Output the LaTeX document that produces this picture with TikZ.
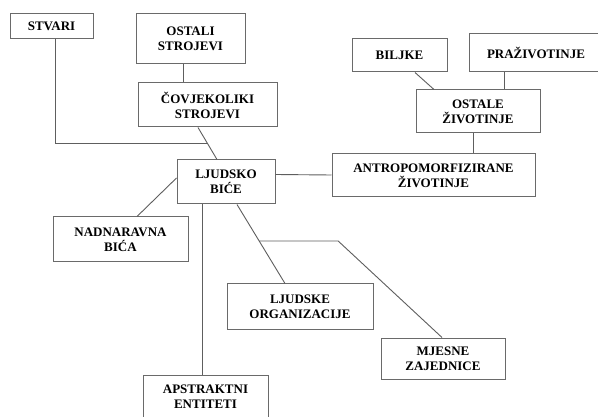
\documentclass[tikz,border=0pt]{standalone}
\usepackage{fontspec}
\setmainfont{Liberation Serif}[BoldFont={Liberation Serif Bold}]
\usetikzlibrary{calc}
\definecolor{linegray}{HTML}{5E5E5E}
\definecolor{boxgray}{HTML}{6A6A6A}
\begin{document}
\begin{tikzpicture}[x=1pt,y=-1pt,
  box/.style={draw=boxgray, line width=1pt, fill=white, align=center,
    font=\fontsize{13}{15}\selectfont\bfseries, inner sep=0pt, text=black},
  conn/.style={draw=linegray, line width=0.9pt}]
\useasboundingbox (0,0) rectangle (598,417);
\clip (0,0) rectangle (598,417);
\fill[white] (0,0) rectangle (598,417);
% nodes
\node[box, minimum width=83pt, minimum height=25pt] (STV) at (51.5,26.5) {STVARI};
\node[box, minimum width=109pt, minimum height=50pt] (OST) at (190.5,39) {OSTALI\\STROJEVI};
\node[box, minimum width=139pt, minimum height=44pt] (COV) at (207.5,105) {ČOVJEKOLIKI\\STROJEVI};
\node[box, minimum width=98pt, minimum height=44pt] (LJ) at (226,182) {LJUDSKO\\BIĆE};
\node[box, minimum width=135pt, minimum height=45pt] (NAD) at (120.5,239.5) {NADNARAVNA\\BIĆA};
\node[box, minimum width=146pt, minimum height=46pt] (LO) at (300,307) {LJUDSKE\\ORGANIZACIJE};
\node[box, minimum width=124pt, minimum height=41pt] (MJ) at (443,358.5) {MJESNE\\ZAJEDNICE};
\node[box, minimum width=125pt, minimum height=44pt] (AP) at (205.5,397) {APSTRAKTNI\\ENTITETI};
\node[box, minimum width=95pt, minimum height=33pt] (BIL) at (399.5,55.5) {BILJKE};
\node[box, minimum width=134pt, minimum height=38pt] (PRA) at (536,53) {PRAŽIVOTINJE};
\node[box, minimum width=124pt, minimum height=43pt] (OZ) at (478,111.5) {OSTALE\\ŽIVOTINJE};
\node[box, minimum width=203pt, minimum height=43pt] (AN) at (433.5,175.5) {ANTROPOMORFIZIRANE\\ŽIVOTINJE};
% connectors
\draw[conn] ([xshift=-7.5pt]OST.south) -- ([xshift=-24.5pt]COV.north);
\coordinate (c1) at ([xshift=-9.5pt]COV.south);
\coordinate (c2) at ([xshift=-9pt]LJ.north);
\draw[conn] (c1) -- (c2);
\coordinate (j1) at ($(c1)!0.485!(c2)$);
\draw[conn] ([xshift=3.5pt]STV.south) |- (j1);
\draw[conn] ([yshift=4pt]LJ.west) -- ([xshift=16.5pt]NAD.north);
\draw[conn] ([yshift=7.5pt]LJ.east) -- ([yshift=0.5pt]AN.west);
\draw[conn] ([xshift=-5pt]OZ.south) -- ([xshift=39.5pt]AN.north);
\draw[conn] ([xshift=15.5pt]BIL.south) -- ([xshift=-44pt]OZ.north);
\draw[conn] ([xshift=-32pt]PRA.south) -- ([xshift=26pt]OZ.north);
\draw[conn] ([xshift=-24pt]LJ.south) -- ([xshift=-3.5pt]AP.north);
\coordinate (d1) at ([xshift=11pt]LJ.south);
\coordinate (d2) at ([xshift=-15pt]LO.north);
\draw[conn] (d1) -- (d2);
\coordinate (j2) at ($(d1)!0.4625!(d2)$);
\coordinate (k2) at ($(j2)+(79,0)$);
\draw[conn] (j2) -- (k2) -- ([xshift=-1pt]MJ.north);
\end{tikzpicture}
\end{document}
